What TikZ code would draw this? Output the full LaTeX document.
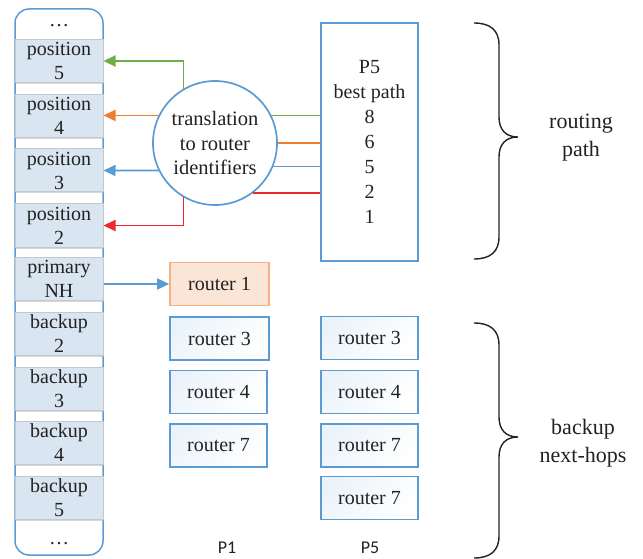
\documentclass[tikz,border=0pt]{standalone}
\usepackage{fontspec}
\setmainfont{Liberation Serif}
\newfontfamily\serfont{Liberation Serif}
\newfontfamily\lblfont{Carlito}
\usetikzlibrary{arrows.meta,shadows}
\definecolor{cblue}{HTML}{5B9BD5}
\definecolor{cgreen}{HTML}{70AD47}
\definecolor{corange}{HTML}{ED7D31}
\definecolor{cred}{HTML}{EE2A2F}
\definecolor{cellfill}{HTML}{DAE5F2}
\definecolor{cellline}{HTML}{C4C8CC}
\definecolor{peach}{HTML}{FBE5D6}
\definecolor{peachline}{HTML}{F4B183}
\definecolor{txt}{HTML}{222222}
\tikzset{
  every node/.style={font=\serfont},
  cell/.style={rectangle, fill=cellfill, draw=cellline, line width=1pt,
    minimum width=88pt, minimum height=43pt, inner sep=0pt, align=center,
    text=txt, font=\serfont\fontsize{20}{24}\selectfont,
    drop shadow={shadow xshift=1pt, shadow yshift=-1.5pt, fill=black!30, opacity=0.5}},
  router/.style={rectangle, draw=cblue, line width=1.8pt,
    top color=cblue!12, bottom color=white, shading angle=45,
    minimum width=97pt, minimum height=43pt, inner sep=0pt,
    text=txt, font=\serfont\fontsize{20}{24}\selectfont},
  conn/.style={line width=1.8pt},
  arr/.style={conn, -{Triangle[length=12pt,width=11pt]}},
  lbl/.style={font=\serfont\fontsize{22}{28}\selectfont, align=center, text=txt},
  collbl/.style={font=\lblfont\fontsize{18}{20}\selectfont, text=txt},
  brace/.style={line width=1.4pt, draw=txt}
}
\begin{document}
\begin{tikzpicture}[x=1pt,y=-1pt]
\useasboundingbox (0,0) rectangle (643,559);
% outer column
\node[draw=cblue, line width=1.5pt, rounded corners=14pt, minimum width=88pt,
  minimum height=546pt, inner sep=0pt] (col) at (59,282) {};
\node[text=txt, font=\serfont\fontsize{20}{24}\selectfont] (dtop) at (59,26) {\dots};
\node[text=txt, font=\serfont\fontsize{20}{24}\selectfont] (dbot) at (59,544) {\dots};
% cells
\node[cell] (pos5) at (59,61) {position\\5};
\node[cell] (pos4) at (59,116) {position\\4};
\node[cell] (pos3) at (59,170.5) {position\\3};
\node[cell] (pos2) at (59,225.5) {position\\2};
\node[cell] (nh) at (59,279) {primary\\NH};
\node[cell] (b2) at (59,333.5) {backup\\2};
\node[cell] (b3) at (59,388.5) {backup\\3};
\node[cell] (b4) at (59,442.5) {backup\\4};
\node[cell] (b5) at (59,497.5) {backup\\5};
% translation circle
\node[circle, draw=cblue, line width=1.7pt, fill=white, minimum size=124pt,
  inner sep=0pt, align=center, text=txt, font=\serfont\fontsize{20.5}{24.5}\selectfont]
  (circ) at (215,143) {translation\\to router\\identifiers};
% P5 best path box
\node[rectangle, draw=cblue, line width=1.7pt, minimum width=97pt, minimum height=238pt,
  inner sep=0pt, align=center, text=txt, font=\serfont\fontsize{20}{25}\selectfont]
  (bp) at (369.5,142) {P5\\best path\\8\\6\\5\\2\\1};
% connectors left
\draw[arr, cgreen] (circ.120) |- (pos5.east);
\draw[arr, corange] (circ.154) -- (circ.154 -| pos4.east);
\draw[arr, cblue] (circ.206) -- (pos3.east);
\draw[arr, cred] (circ.240) |- (pos2.east);
% connectors right
\draw[conn, cgreen] (circ.26) -- (circ.26 -| bp.west);
\draw[conn, corange] (circ.0) -- (circ.0 -| bp.west);
\draw[conn, cblue] (circ.-22) -- (circ.-22 -| bp.west);
\draw[conn, cred] (circ.-53.7) -- (circ.-53.7 -| bp.west);
% routers P1
\node[rectangle, fill=peach, draw=peachline, line width=1.7pt, minimum width=99pt,
  minimum height=43pt, inner sep=0pt, text=txt, font=\serfont\fontsize{20}{24}\selectfont]
  (r1) at (219.5,284) {router 1};
\draw[arr, cblue] (nh.east |- r1.west) -- (r1.west);
\node[router, minimum width=99pt] (p1r3) at (219.5,338.5) {router 3};
\node[router] (p1r4) at (218.5,392) {router 4};
\node[router] (p1r7) at (218.5,445.5) {router 7};
% routers P5
\node[router] (p5r3) at (369.5,338) {router 3};
\node[router] (p5r4) at (369.5,392) {router 4};
\node[router] (p5r7) at (369.5,445.5) {router 7};
\node[router] (p5r7b) at (369.5,498) {router 7};
\node[collbl] (p1lbl) at (227,548) {P1};
\node[collbl] (p5lbl) at (370,548) {P5};
% braces
\draw[brace] (474,23) .. controls (490,23) and (499,30) .. (499,45) -- (499,117)
  .. controls (499,130) and (506,137) .. (518,137)
  .. controls (506,137) and (499,144) .. (499,157) -- (499,237)
  .. controls (499,252) and (490,259) .. (474,259);
\draw[brace] (474,323) .. controls (490,323) and (499,330) .. (499,345) -- (499,417)
  .. controls (499,430) and (506,437) .. (518,437)
  .. controls (506,437) and (499,444) .. (499,457) -- (499,536)
  .. controls (499,551) and (490,558) .. (474,558);
\node[lbl] (rp) at (581,138) {routing\\path};
\node[lbl] (bn) at (583,443) {backup\\next-hops};
\end{tikzpicture}
\end{document}
